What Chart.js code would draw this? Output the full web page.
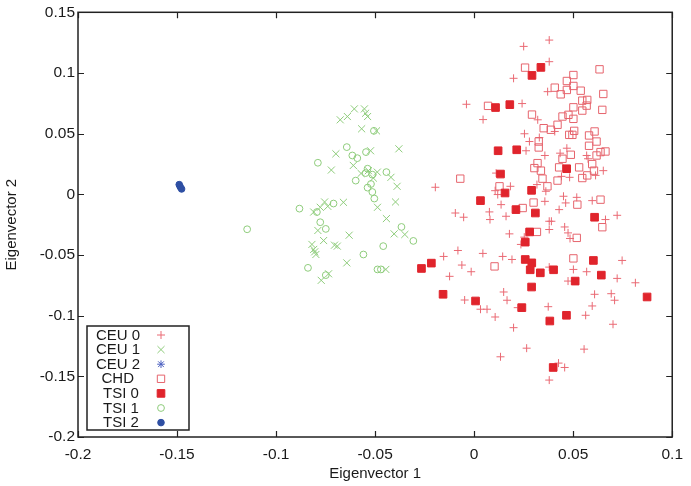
<!DOCTYPE html>
<html><head><meta charset="utf-8">
<script src="https://cdn.jsdelivr.net/npm/chart.js@4/dist/chart.umd.min.js"></script>
<style>html,body{margin:0;padding:0;background:#fff;}canvas{display:block;}</style>
</head><body>
<canvas id="c" width="691" height="486"></canvas>
<script>
// ---- data (Eigenvector 1, Eigenvector 2) ----
const seriesLabels = ['CEU 0','CEU 1','CEU 2','CHD','TSI 0','TSI 1','TSI 2'];
const xTickValues = [-0.2,-0.15,-0.1,-0.05,0,0.05,0.1];
const yTickValues = [-0.2,-0.15,-0.1,-0.05,0,0.05,0.1,0.15];

const CEU0 = [[0.0250,0.1219],[0.0199,0.0956],[-0.0039,0.0742],[0.0242,0.0748],[0.0045,0.0616],[0.0321,0.0614],[0.0254,0.0499],[0.0279,0.0435],[0.0262,0.0359],
[0.0379,0.1271],[0.0379,0.1093],[0.0371,0.0846],[0.0407,0.0518],[0.0468,0.0380],[0.0329,0.0468],[0.0434,0.0339],[0.0357,0.0320],[0.0568,0.0320],[0.0575,0.0293],
[0.0111,0.0175],[-0.0196,0.0058],[0.0183,0.0066],[0.0106,0.0030],[0.0119,-0.0002],[0.0317,0.0080],[0.0136,-0.0085],[-0.0095,-0.0154],[-0.0053,-0.0189],[0.0077,-0.0145],[0.0080,-0.0208],[0.0161,-0.0181],[0.0178,-0.0326],[0.0253,-0.0353],[0.0236,-0.0413],[-0.0082,-0.0463],[0.0044,-0.0487],[-0.0154,-0.0512],[0.0144,-0.0512],[0.0191,-0.0537],[-0.0062,-0.0583],[-0.0015,-0.0638],[-0.0124,-0.0676],
[0.0652,0.0195],[0.0613,0.0156],[0.0441,0.0148],[0.0482,0.0140],[0.0362,0.0025],[0.0451,-0.0016],[0.0518,-0.0025],[0.0462,-0.0071],[0.0357,-0.0058],[0.0596,-0.0052],[0.0429,-0.0126],[0.0722,-0.0173],[0.0663,-0.0208],[0.0379,-0.0222],[0.0390,-0.0222],[0.0379,-0.0290],[0.0457,-0.0269],[0.0474,-0.0318],[0.0484,-0.0364],[0.0747,-0.0545],[0.0379,-0.0600],[0.0501,-0.0619],[0.0568,-0.0638],[0.0722,-0.0693],[0.0474,-0.0715],[0.0814,-0.0729],
[-0.0048,-0.0871],[0.0032,-0.0947],[0.0065,-0.0947],[0.0149,-0.0805],[0.0166,-0.0873],[0.0220,-0.0934],[0.0106,-0.1011],[0.0199,-0.1099],[0.0265,-0.1268],[0.0133,-0.1339],
[0.0608,-0.0824],[0.0692,-0.0819],[0.0709,-0.0873],[0.0374,-0.0926],[0.0596,-0.0920],[0.0563,-0.0997],[0.0701,-0.1071],[0.0555,-0.1276],[0.0426,-0.1391],[0.0457,-0.1427],[0.0379,-0.1531]];

const CEU1 = [[-0.0676,0.0614],[-0.0640,0.0641],[-0.0605,0.0704],[-0.0554,0.0704],[-0.0548,0.0668],[-0.0538,0.0641],[-0.0568,0.0540],[-0.0493,0.0523],[-0.0698,0.0334],[-0.0610,0.0238],[-0.0721,0.0200],[-0.0523,0.0359],[-0.0380,0.0375],[-0.0571,0.0172],[-0.0534,0.0195],[-0.0489,0.0183],[-0.0509,0.0134],[-0.0420,0.0140],[-0.0389,0.0066],[-0.0397,-0.0063],[-0.0488,-0.0107],[-0.0443,-0.0200],[-0.0660,-0.0066],[-0.0755,-0.0063],[-0.0739,-0.0099],[-0.0777,-0.0107],[-0.0810,-0.0146],[-0.0789,-0.0298],[-0.0760,-0.0381],[-0.0819,-0.0413],[-0.0810,-0.0454],[-0.0799,-0.0496],[-0.0705,-0.0419],[-0.0691,-0.0427],[-0.0631,-0.0337],[-0.0404,-0.0326],[-0.0350,-0.0331],[-0.0643,-0.0565],[-0.0446,-0.0619],[-0.0772,-0.0709],[-0.0735,-0.0655],[-0.0805,-0.0474]];

const CEU2 = [];

const CHD = [[0.0257,0.1044],[0.0070,0.0729],[0.0292,0.0657],[0.0326,0.0435],[0.0326,0.0386],
[0.0633,0.1030],[0.0501,0.0983],[0.0468,0.0934],[0.0501,0.0893],[0.0407,0.0879],[0.0437,0.0824],[0.0468,0.0860],[0.0538,0.0854],[0.0652,0.0827],[0.0546,0.0772],[0.0571,0.0778],[0.0568,0.0731],[0.0546,0.0690],[0.0501,0.0717],[0.0647,0.0696],[0.0446,0.0641],[0.0476,0.0655],[0.0501,0.0622],[0.0421,0.0573],[0.0351,0.0545],[0.0387,0.0532],[0.0505,0.0523],[0.0480,0.0490],[0.0496,0.0490],[0.0608,0.0518],[0.0580,0.0485],[0.0618,0.0435],[0.0580,0.0400],[0.0488,0.0326],[0.0446,0.0293],[0.0618,0.0320],[0.0638,0.0348],[0.0663,0.0353],
[0.0304,0.0216],[0.0320,0.0257],[-0.0070,0.0129],[0.0128,0.0066],[0.0300,-0.0068],[0.0245,-0.0113],[0.0317,-0.0310],[0.0103,-0.0594],
[0.0429,0.0222],[0.0530,0.0222],[0.0596,0.0249],[0.0605,0.0195],[0.0571,0.0156],[0.0546,0.0134],[0.0421,0.0113],[0.0337,0.0195],[0.0345,0.0129],[0.0370,0.0066],[0.0521,-0.0085],[0.0638,-0.0044],[0.0647,-0.0271],[0.0518,-0.0359],[0.0501,-0.0528]];

const TSI0 = [[0.0292,0.0980],[0.0108,0.0715],[0.0180,0.0739],[0.0121,0.0359],[0.0215,0.0367],[0.0337,0.1046],
[0.0133,0.0167],[0.0156,0.0011],[0.0290,0.0033],[0.0032,-0.0052],[0.0211,-0.0126],[0.0309,-0.0154],[0.0280,-0.0310],[0.0258,-0.0394],[0.0258,-0.0537],[0.0291,-0.0565],[-0.0216,-0.0567],[-0.0266,-0.0611],[0.0283,-0.0622],[0.0290,-0.0764],
[0.0467,0.0211],[0.0608,-0.0189],[0.0602,-0.0545],[0.0401,-0.0622],[0.0334,-0.0647],[0.0642,-0.0666],[0.0510,-0.0715],
[-0.0157,-0.0824],[0.0007,-0.0879],[0.0241,-0.0934],
[0.0873,-0.0846],[0.0466,-0.0997],[0.0382,-0.1044],[0.0399,-0.1427]];

const TSI1 = [[-0.0506,0.0523],[-0.0643,0.0389],[-0.0615,0.0320],[-0.0590,0.0298],[-0.0546,0.0348],[-0.0789,0.0260],[-0.0538,0.0211],[-0.0548,0.0175],[-0.0514,0.0162],[-0.0598,0.0113],[-0.0443,0.0183],[-0.0521,0.0085],[-0.0538,0.0055],[-0.0514,0.0019],[-0.0504,-0.0035],[-0.0882,-0.0118],[-0.0710,-0.0076],[-0.0794,-0.0146],[-0.0777,-0.0230],[-0.0749,-0.0285],[-0.0367,-0.0269],[-0.0307,-0.0384],[-0.0459,-0.0427],[-0.0559,-0.0496],[-0.0839,-0.0606],[-0.0488,-0.0619],[-0.0471,-0.0619],[-0.0749,-0.0666],[-0.1146,-0.0288]];

const TSI2 = [[-0.1489,0.0080],[-0.1484,0.0062],[-0.1477,0.0044]];

// ---- styles ----
const seriesData = [CEU0, CEU1, CEU2, CHD, TSI0, TSI1, TSI2];
const styles = [
  {ps:'cross',    r:4.0, stroke:'#ea6a74', fill:'rgba(0,0,0,0)', lw:1},
  {ps:'crossRot', r:5.0, stroke:'#8ecc7b', fill:'rgba(0,0,0,0)', lw:1},
  {ps:'star',     r:3.8, stroke:'#4a5fc0', fill:'rgba(0,0,0,0)', lw:1},
  {ps:'rect',     r:5.2, stroke:'#e6646d', fill:'rgba(0,0,0,0)', lw:1},
  {ps:'rect',     r:5.4, stroke:'#e0242c', fill:'#e0242c', lw:1},
  {ps:'circle',   r:3.4, stroke:'#8ecc7b', fill:'rgba(0,0,0,0)', lw:1},
  {ps:'circle',   r:3.3, stroke:'#2e4fa3', fill:'#2e4fa3', lw:1}
];
const legendTextX = [96,96,96,101.5,103,103,103];

const FONT = '"Liberation Sans", Arial, sans-serif';
const TXT = '#1a1a1a';
Chart.defaults.font.family = FONT;
Chart.defaults.font.size = 15;
Chart.defaults.color = TXT;

function drawMarker(ctx, st, x, y) {
  const r = st.r;
  ctx.save();
  ctx.strokeStyle = st.stroke; ctx.fillStyle = st.fill; ctx.lineWidth = st.lw;
  ctx.beginPath();
  if (st.ps === 'cross' || st.ps === 'star') {
    ctx.moveTo(x - r, y); ctx.lineTo(x + r, y); ctx.moveTo(x, y - r); ctx.lineTo(x, y + r);
  }
  if (st.ps === 'crossRot' || st.ps === 'star') {
    const d = st.ps === 'star' ? r * 0.75 : r * Math.SQRT1_2;
    ctx.moveTo(x - d, y - d); ctx.lineTo(x + d, y + d); ctx.moveTo(x - d, y + d); ctx.lineTo(x + d, y - d);
  }
  if (st.ps === 'rect') {
    const s = r * Math.SQRT1_2; ctx.rect(x - s, y - s, 2 * s, 2 * s); ctx.fill();
  }
  if (st.ps === 'circle') { ctx.arc(x, y, r, 0, Math.PI * 2); ctx.fill(); }
  ctx.stroke();
  ctx.restore();
}

const framePlugin = {
  id: 'frame',
  afterDatasetsDraw(chart) {
    const {ctx, chartArea: a, scales: {x, y}} = chart;
    ctx.save();
    ctx.strokeStyle = '#222'; ctx.lineWidth = 1.2;
    ctx.beginPath();
    x.ticks.forEach(t => {
      const px = Math.round(x.getPixelForValue(t.value)) + 0.5;
      ctx.moveTo(px, a.bottom); ctx.lineTo(px, a.bottom - 6);
      ctx.moveTo(px, a.top); ctx.lineTo(px, a.top + 6);
    });
    y.ticks.forEach(t => {
      const py = Math.round(y.getPixelForValue(t.value)) + 0.5;
      ctx.moveTo(a.left, py); ctx.lineTo(a.left + 6, py);
      ctx.moveTo(a.right, py); ctx.lineTo(a.right - 6, py);
    });
    ctx.stroke();
    ctx.lineWidth = 1.5;
    ctx.strokeRect(a.left, a.top, a.right - a.left, a.bottom - a.top);
    ctx.restore();
  }
};

const legendPlugin = {
  id: 'boxLegend',
  afterDraw(chart) {
    const ctx = chart.ctx;
    const L = 87, T = 326, R = 189, B = 430;
    ctx.save();
    ctx.fillStyle = '#fff';
    ctx.fillRect(L, T, R - L, B - T);
    ctx.strokeStyle = '#222'; ctx.lineWidth = 1.5;
    ctx.strokeRect(L, T, R - L, B - T);
    ctx.font = '15px ' + FONT;
    ctx.fillStyle = TXT;
    ctx.textBaseline = 'middle';
    ctx.textAlign = 'left';
    chart.data.datasets.forEach((ds, i) => {
      const yy = 335 + i * 14.6;
      ctx.fillText(ds.label, legendTextX[i], yy + 0.5);
      drawMarker(ctx, styles[i], 161, yy);
    });
    ctx.restore();
  }
};

const datasets = seriesLabels.map((lab, i) => ({
  label: lab,
  data: seriesData[i].map(p => ({x: p[0], y: p[1]})),
  pointStyle: styles[i].ps,
  pointRadius: styles[i].r,
  pointHoverRadius: styles[i].r,
  borderColor: styles[i].stroke,
  backgroundColor: styles[i].fill,
  pointBorderWidth: styles[i].lw,
  order: 10 - i
}));

const fmt = v => String(+Number(v).toFixed(2));
const noGrid = { display: false, drawTicks: false, tickLength: 0 };

new Chart(document.getElementById('c'), {
  type: 'scatter',
  data: { datasets },
  options: {
    responsive: false,
    animation: false,
    devicePixelRatio: 1,
    layout: { padding: { top: 11, right: 16, bottom: 0, left: 0 } },
    plugins: { legend: { display: false }, tooltip: { enabled: false } },
    scales: {
      x: {
        type: 'linear', min: -0.2, max: 0.1,
        afterBuildTicks: s => { s.ticks = xTickValues.map(v => ({value: v})); },
        ticks: { stepSize: 0.05, padding: 8, maxRotation: 0, autoSkip: false, callback: fmt, color: TXT, font: {size: 15.5} },
        grid: noGrid,
        border: { display: false },
        title: { display: true, text: 'Eigenvector 1', color: TXT, font: {size: 15}, padding: { top: 0, bottom: 3 } },
        afterFit: s => { s.height = 49; }
      },
      y: {
        type: 'linear', min: -0.2, max: 0.15,
        afterBuildTicks: s => { s.ticks = yTickValues.map(v => ({value: v})); },
        ticks: { stepSize: 0.05, padding: 3, autoSkip: false, callback: fmt, color: TXT, font: {size: 15.5} },
        grid: noGrid,
        border: { display: false },
        title: { display: true, text: 'Eigenvector 2', color: TXT, font: {size: 15}, padding: { top: 2.5, bottom: 0 } },
        afterFit: s => { s.width = 78; }
      }
    }
  },
  plugins: [framePlugin, legendPlugin]
});
</script>
</body></html>
